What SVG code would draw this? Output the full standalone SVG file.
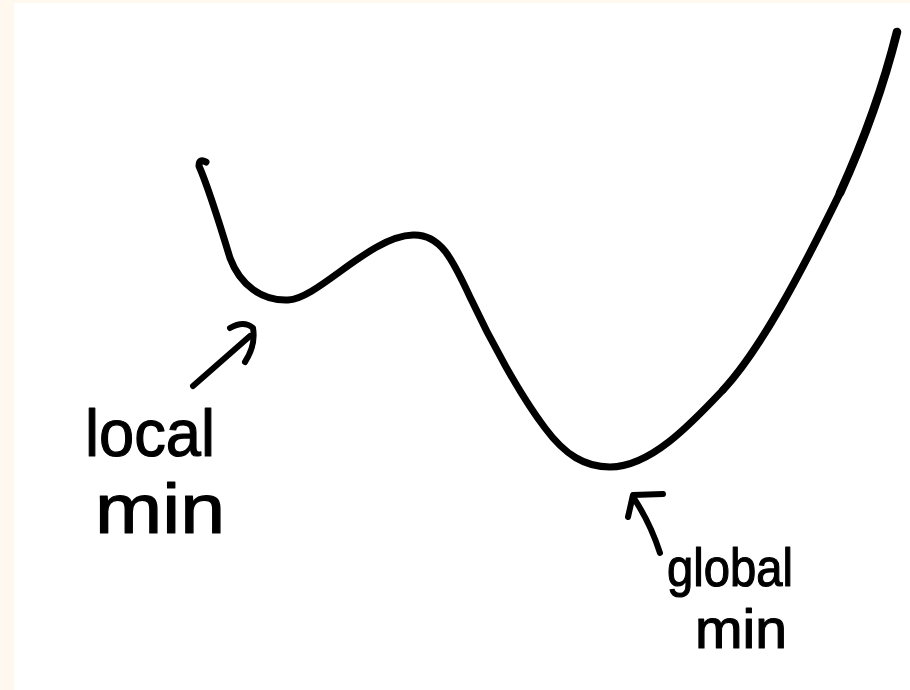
<svg xmlns="http://www.w3.org/2000/svg" width="910" height="690" viewBox="0 0 910 690">
<style>
.ink{fill:none;stroke:#000;stroke-linecap:round;stroke-linejoin:round}
.hand{font-family:"Liberation Sans","Noto Sans",sans-serif;fill:#000;stroke:#000;stroke-width:1.2;stroke-linejoin:round}
</style>
<rect x="0" y="0" width="910" height="690" fill="#FFF8EE"/>
<rect x="14" y="3" width="896" height="687" fill="#FFFFFF"/>
<g id="curve">
<path class="ink" stroke-width="7" d="M206,162 Q199,158 199,166 C206,182 220,225 230,258 C240,285 262,301 288,300 C318,299 370,236 413,235 C440,234 452,258 470,297 C490,340 520,395 545,428 C565,455 585,467 610,467 C650,467 690,425 723,390"/>
<path class="ink" stroke-width="7.6" d="M723,390 C760,350 800,275 840,193"/>
<path class="ink" stroke-width="8.6" d="M840,193 C855,160 880,100 897,32"/>
</g>
<g id="connectors">
<path class="ink" stroke-width="6" d="M193,386 L250,336"/>
<path class="ink" stroke-width="6" d="M230,328 Q244,320 253,328 Q256,345 245,362"/>
<path class="ink" stroke-width="6" d="M660,553 Q650,522 633,497"/>
<path class="ink" stroke-width="6" d="M628,517 L633,495 L663,494"/>
</g>
<g id="local-min">
<text class="hand" x="85" y="456" font-size="66" textLength="130" lengthAdjust="spacingAndGlyphs">local</text>
<text class="hand" x="95" y="533" font-size="70" textLength="130" lengthAdjust="spacingAndGlyphs">min</text>
</g>
<g id="global-min">
<text class="hand" x="667" y="586" font-size="54" textLength="126" lengthAdjust="spacingAndGlyphs">global</text>
<text class="hand" x="695" y="648" font-size="56" textLength="92" lengthAdjust="spacingAndGlyphs">min</text>
</g>
</svg>
